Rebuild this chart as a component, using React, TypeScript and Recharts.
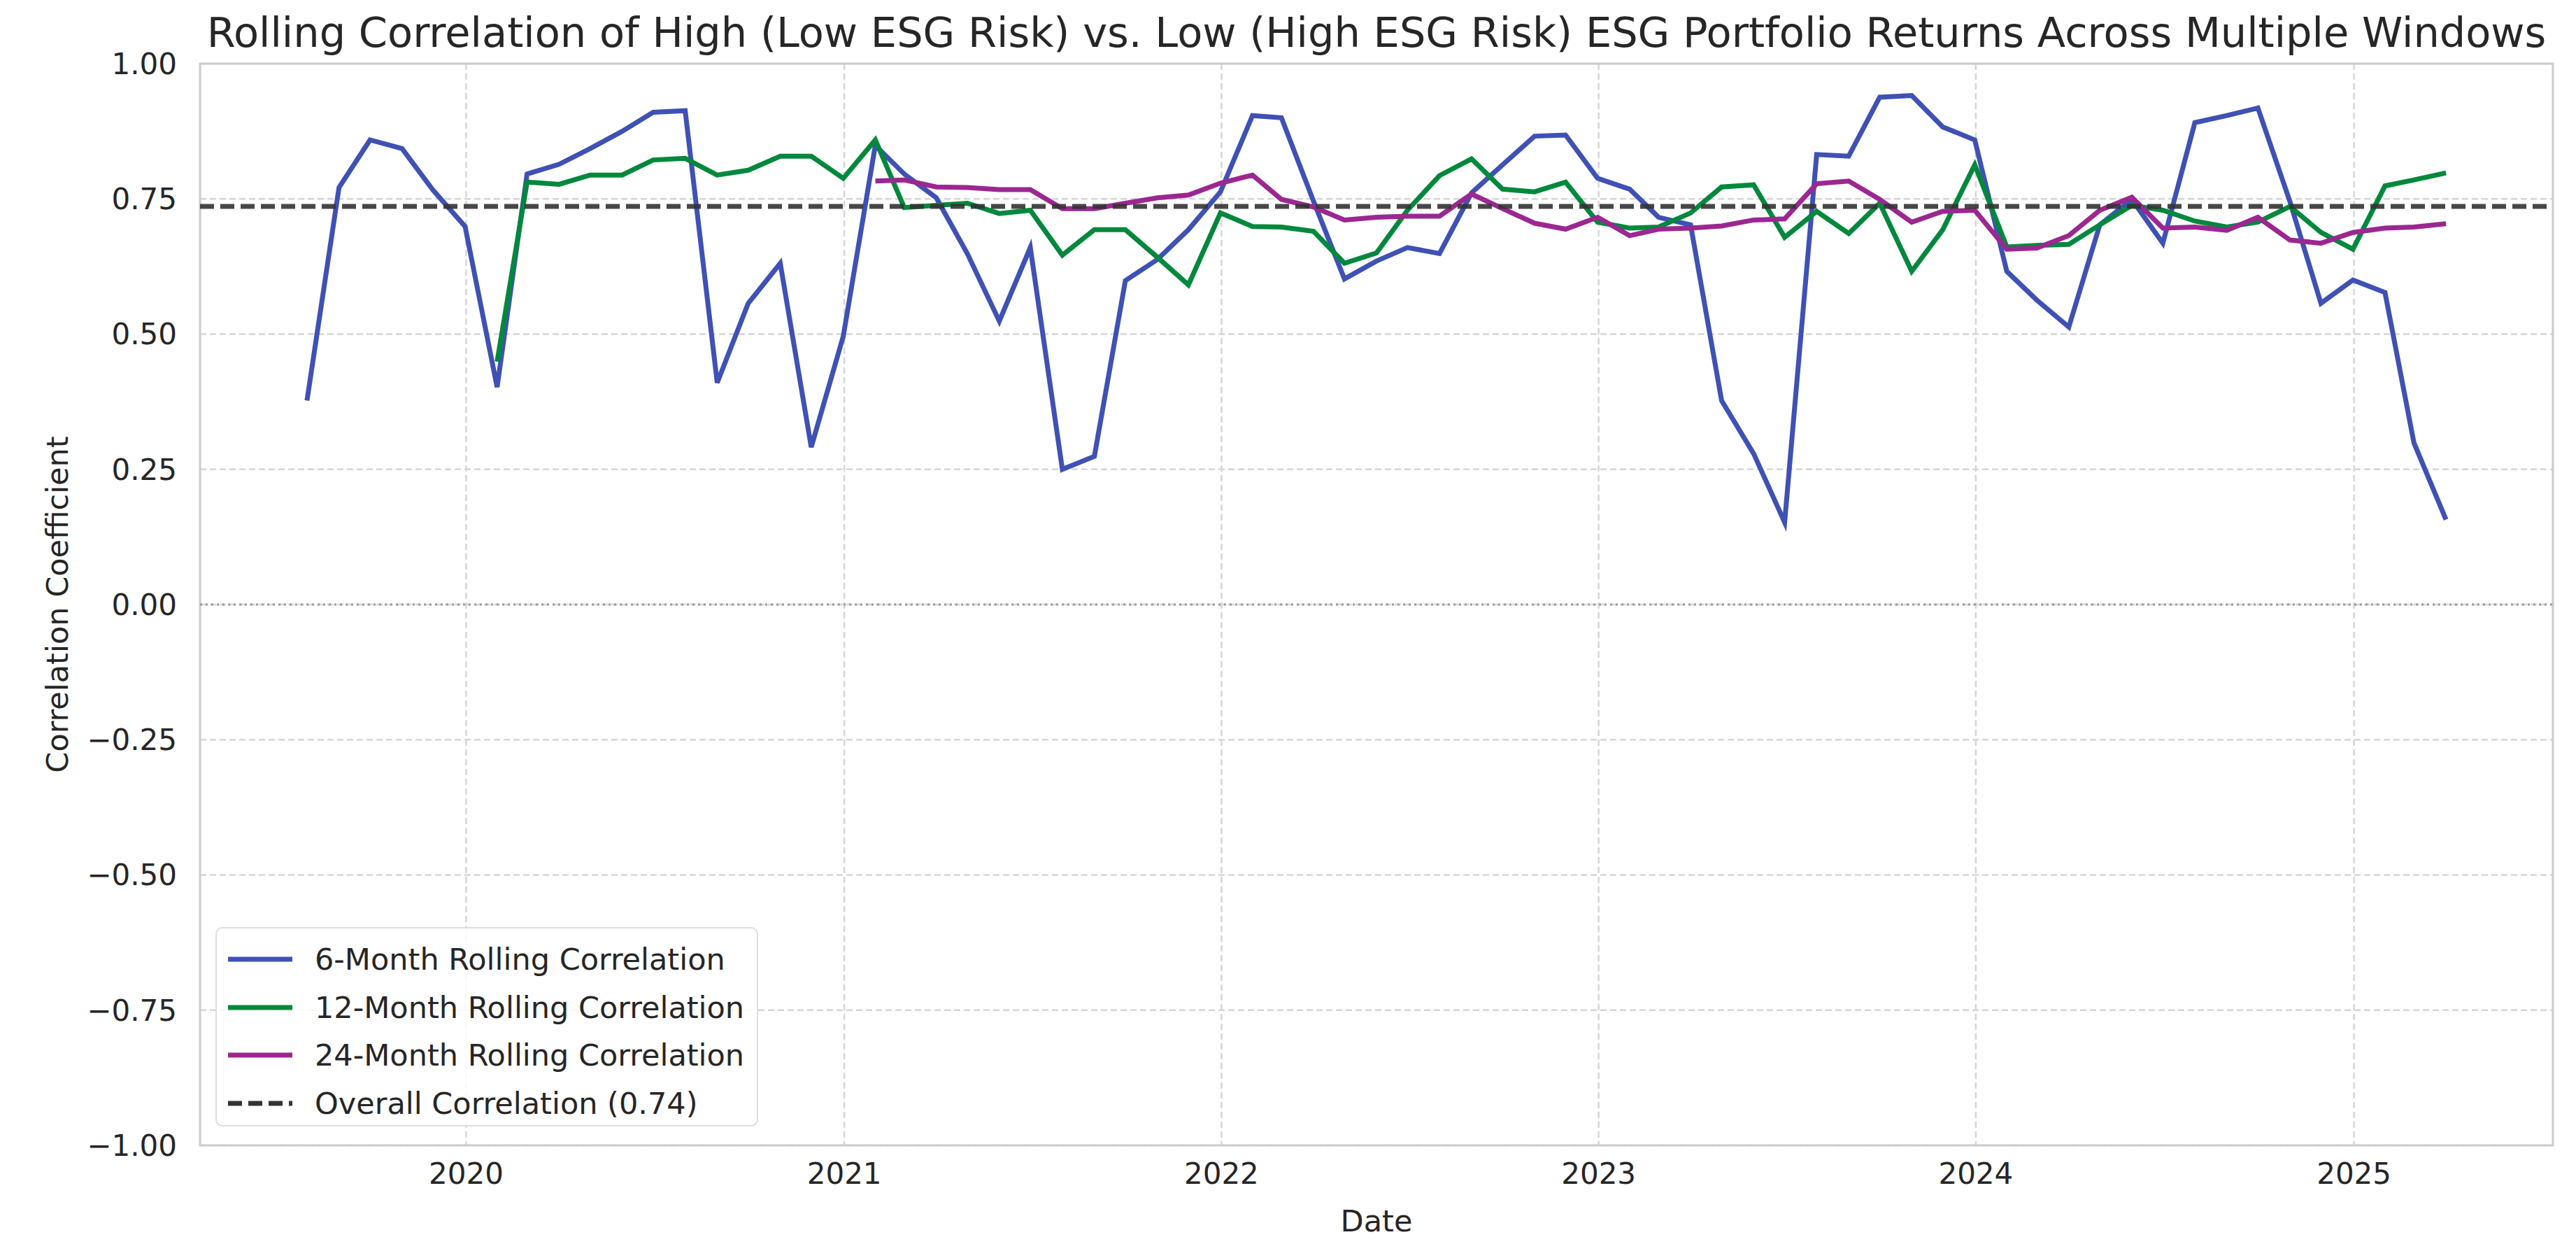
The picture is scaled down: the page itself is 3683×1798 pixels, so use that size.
import React from "react";
import {
  LineChart,
  Line,
  XAxis,
  YAxis,
  CartesianGrid,
  ReferenceLine,
  ReferenceArea,
  Legend,
} from "recharts";

// month-end observations
const months = [
  "2019-07", "2019-08", "2019-09", "2019-10", "2019-11", "2019-12",
  "2020-01", "2020-02", "2020-03", "2020-04", "2020-05", "2020-06",
  "2020-07", "2020-08", "2020-09", "2020-10", "2020-11", "2020-12",
  "2021-01", "2021-02", "2021-03", "2021-04", "2021-05", "2021-06",
  "2021-07", "2021-08", "2021-09", "2021-10", "2021-11", "2021-12",
  "2022-01", "2022-02", "2022-03", "2022-04", "2022-05", "2022-06",
  "2022-07", "2022-08", "2022-09", "2022-10", "2022-11", "2022-12",
  "2023-01", "2023-02", "2023-03", "2023-04", "2023-05", "2023-06",
  "2023-07", "2023-08", "2023-09", "2023-10", "2023-11", "2023-12",
  "2024-01", "2024-02", "2024-03", "2024-04", "2024-05", "2024-06",
  "2024-07", "2024-08", "2024-09", "2024-10", "2024-11", "2024-12",
  "2025-01", "2025-02", "2025-03",
];

// 6-month window, starts 2019-07
const rolling6 = [
  0.377, 0.771, 0.859, 0.843, 0.766, 0.699,
  0.402, 0.796, 0.814, 0.843, 0.875, 0.91, 0.913, 0.41, 0.557, 0.631, 0.291, 0.496,
  0.849, 0.796, 0.752, 0.649, 0.524, 0.66, 0.25, 0.274, 0.599, 0.638, 0.693, 0.763,
  0.904, 0.9, 0.746, 0.602, 0.635, 0.66, 0.649, 0.761, 0.813, 0.866, 0.868, 0.788,
  0.768, 0.716, 0.702, 0.377, 0.279, 0.152, 0.832, 0.829, 0.938, 0.941, 0.883, 0.859,
  0.616, 0.563, 0.513, 0.702, 0.749, 0.668, 0.891, 0.904, 0.918, 0.745, 0.557, 0.6,
  0.577, 0.299, 0.157,
];

// 12-month window, starts 2020-01
const rolling12 = [
  0.449, 0.781, 0.777, 0.794, 0.794, 0.822, 0.825, 0.794, 0.803, 0.829, 0.829, 0.788,
  0.859, 0.734, 0.738, 0.742, 0.723, 0.729, 0.646, 0.693, 0.693, 0.642, 0.591, 0.724,
  0.699, 0.698, 0.69, 0.631, 0.65, 0.729, 0.793, 0.824, 0.768, 0.763, 0.781, 0.707,
  0.696, 0.698, 0.724, 0.772, 0.776, 0.679, 0.727, 0.686, 0.742, 0.616, 0.693, 0.813,
  0.661, 0.664, 0.666, 0.702, 0.738, 0.729, 0.709, 0.698, 0.707, 0.736, 0.688, 0.657,
  0.774, 0.785, 0.798,
];

// 24-month window, starts 2021-01
const rolling24 = [
  0.783, 0.785, 0.772, 0.771, 0.767, 0.767, 0.732, 0.732, 0.742, 0.752, 0.757, 0.779,
  0.794, 0.749, 0.735, 0.711, 0.716, 0.718, 0.718, 0.759, 0.732, 0.705, 0.694, 0.716,
  0.682, 0.694, 0.696, 0.7, 0.711, 0.713, 0.778, 0.783, 0.749, 0.707, 0.727, 0.729,
  0.657, 0.659, 0.682, 0.729, 0.753, 0.696, 0.698, 0.692, 0.716, 0.674, 0.668, 0.688,
  0.696, 0.698, 0.704,
];

const overallCorr = 0.736;
const yearTicks = [2020, 2021, 2022, 2023, 2024, 2025];
const yTicks = [-1, -0.75, -0.5, -0.25, 0, 0.25, 0.5, 0.75, 1];

const BLUE = "#3f51b5";
const GREEN = "#00883c";
const PURPLE = "#9b2791";
const TEXT = "#262626";
const FONT = "'DejaVu Sans', sans-serif";
const LW = 7;

const monthEnd = (m: string) => {
  const [y, mo] = m.split("-").map(Number);
  return Date.UTC(y, mo, 0);
};

const off12 = months.length - rolling12.length;
const off24 = months.length - rolling24.length;

const data = months.map((m, i) => ({
  t: monthEnd(m),
  r6: rolling6[i],
  r12: i >= off12 ? rolling12[i - off12] : null,
  r24: i >= off24 ? rolling24[i - off24] : null,
}));

const first = data[0].t;
const last = data[data.length - 1].t;
const pad = (last - first) * 0.05;
const xDomain = [first - pad, last + pad];

const legendItems = [
  { label: "6-Month Rolling Correlation", color: BLUE, dash: undefined },
  { label: "12-Month Rolling Correlation", color: GREEN, dash: undefined },
  { label: "24-Month Rolling Correlation", color: PURPLE, dash: undefined },
  { label: `Overall Correlation (${overallCorr.toFixed(2)})`, color: "#333333", dash: "20 9" },
];

const fmtY = (v: number) => (v < 0 ? "\u2212" + Math.abs(v).toFixed(2) : v.toFixed(2));

function LegendBox() {
  return (
    <div
      style={{
        width: 776,
        height: 285,
        boxSizing: "border-box",
        border: "2px solid #dddddd",
        borderRadius: 10,
        background: "rgba(255,255,255,0.85)",
        padding: "10px 0 0 14px",
        fontFamily: FONT,
        fontSize: 43,
        color: TEXT,
      }}
    >
      {legendItems.map((it) => (
        <div key={it.label} style={{ display: "flex", alignItems: "center", height: 68.5 }}>
          <svg width={96} height={20} style={{ marginRight: 30 }}>
            <line
              x1={2}
              y1={10}
              x2={94}
              y2={10}
              stroke={it.color}
              strokeWidth={LW}
              strokeDasharray={it.dash}
            />
          </svg>
          <span style={{ whiteSpace: "nowrap" }}>{it.label}</span>
        </div>
      ))}
    </div>
  );
}

export default function App() {
  return (
    <div
      style={{
        position: "absolute",
        left: 0,
        top: 0,
        width: 3683,
        height: 1798,
        background: "#ffffff",
        fontFamily: FONT,
      }}
    >
      <div
        style={{
          position: "absolute",
          left: 286,
          width: 3364,
          top: 17,
          textAlign: "center",
          fontSize: 59,
          lineHeight: "59px",
          color: TEXT,
          whiteSpace: "nowrap",
        }}
      >
        Rolling Correlation of High (Low ESG Risk) vs. Low (High ESG Risk) ESG Portfolio Returns Across Multiple Windows
      </div>
      <div
        style={{
          position: "absolute",
          left: 82,
          top: 864,
          transform: "translate(-50%, -50%) rotate(-90deg)",
          fontSize: 43,
          color: TEXT,
          whiteSpace: "nowrap",
        }}
      >
        Correlation Coefficient
      </div>
      <LineChart
        width={3683}
        height={1798}
        data={data}
        margin={{ top: 91, right: 33, left: 0, bottom: 0 }}
      >
        <CartesianGrid stroke="#d6d6d6" strokeWidth={2.5} strokeDasharray="9 5" />
        <XAxis
          dataKey="t"
          type="number"
          scale="time"
          domain={xDomain}
          allowDataOverflow
          ticks={yearTicks.map((y) => Date.UTC(y, 0, 1))}
          tickFormatter={(t: number) => String(new Date(t).getUTCFullYear())}
          height={161}
          axisLine={false}
          tickLine={false}
          tickSize={0}
          tickMargin={25}
          tick={{ fontSize: 42, fill: TEXT, fontFamily: FONT }}
          label={{ value: "Date", position: "insideBottom", offset: 38, fontSize: 43, fill: TEXT, fontFamily: FONT }}
        />
        <YAxis
          type="number"
          domain={[-1, 1]}
          ticks={yTicks}
          tickFormatter={fmtY}
          width={286}
          axisLine={false}
          tickLine={false}
          tickSize={0}
          tickMargin={33}
          tick={{ fontSize: 42, fill: TEXT, fontFamily: FONT }}
        />
        <ReferenceArea
          x1={xDomain[0]}
          x2={xDomain[1]}
          y1={-1}
          y2={1}
          fill="none"
          stroke="#cccccc"
          strokeWidth={3}
        />
        <ReferenceLine y={0} stroke="#999999" strokeWidth={3} strokeDasharray="3 5" />
        <Line
          dataKey="r6"
          stroke={BLUE}
          strokeWidth={LW}
          dot={false}
          isAnimationActive={false}
        />
        <Line
          dataKey="r12"
          stroke={GREEN}
          strokeWidth={LW}
          dot={false}
          isAnimationActive={false}
        />
        <Line
          dataKey="r24"
          stroke={PURPLE}
          strokeWidth={LW}
          dot={false}
          isAnimationActive={false}
        />
        <ReferenceLine
          y={overallCorr}
          stroke="#333333"
          strokeOpacity={0.9}
          strokeWidth={LW}
          strokeDasharray="20 9"
        />
        <Legend
          layout="horizontal"
          verticalAlign="middle"
          align="center"
          wrapperStyle={{ left: 308, top: 1325, width: "auto" }}
          content={() => <LegendBox />}
        />
      </LineChart>
    </div>
  );
}
